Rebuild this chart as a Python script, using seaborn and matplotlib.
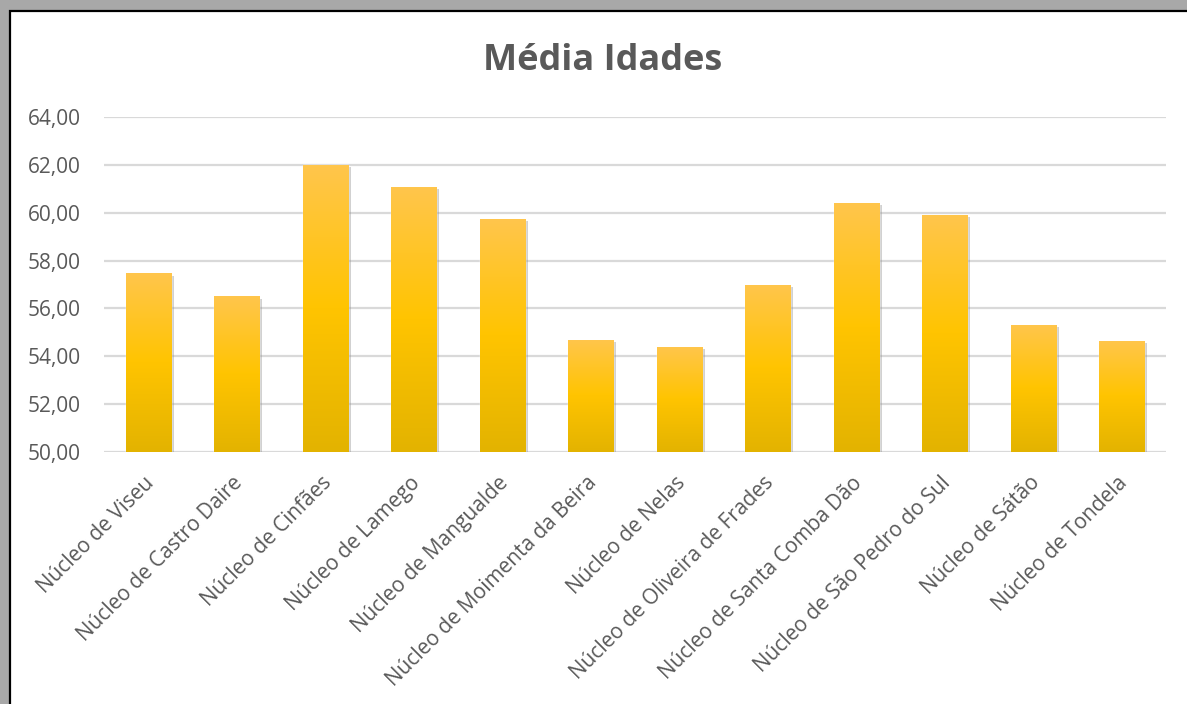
import numpy as np
import pandas as pd
import matplotlib
matplotlib.use('Agg')
import matplotlib.pyplot as plt
import matplotlib.patheffects as pe
import matplotlib.transforms as mtransforms
from matplotlib.colors import LinearSegmentedColormap
from matplotlib.patches import Rectangle
import seaborn as sns

nucleos = ['Núcleo de Viseu', 'Núcleo de Castro Daire', 'Núcleo de Cinfães',
           'Núcleo de Lamego', 'Núcleo de Mangualde', 'Núcleo de Moimenta da Beira',
           'Núcleo de Nelas', 'Núcleo de Oliveira de Frades', 'Núcleo de Santa Comba Dão',
           'Núcleo de São Pedro do Sul', 'Núcleo de Sátão', 'Núcleo de Tondela']
media_idades = [57.46, 56.50, 61.99, 61.07, 59.73, 54.70,
                54.40, 57.00, 60.40, 59.90, 55.32, 54.65]
y_ticks = [50, 52, 54, 56, 58, 60, 62, 64]

df = pd.DataFrame({'Núcleo': nucleos, 'Média': media_idades})

sns.set_style('white')
plt.rcParams['font.family'] = ['Open Sans', 'DejaVu Sans']
grey_txt = '#595959'

fig = plt.figure(figsize=(11.87, 7.04), dpi=100)

# frame like the Excel screenshot: grey shade top/left, black line, white inside
fig.patches.append(Rectangle((0, 0), 1, 1, transform=fig.transFigure,
                             facecolor='#a8a8a8', edgecolor='none', zorder=-3))
fig.patches.append(Rectangle((10 / 1187, -0.01), 1.02, 1 - 11 / 704 + 0.01,
                             transform=fig.transFigure, facecolor='white',
                             edgecolor='black', linewidth=1.6, zorder=-2))

ax = fig.add_axes([104 / 1187, 1 - 452 / 704, 1062 / 1187, 335 / 704])
ax.set_facecolor('none')

sns.barplot(data=df, x='Núcleo', y='Média', color='#FFC000', width=0.51,
            ax=ax, zorder=3)

ax.set_ylim(50, 64)
ax.set_xlim(-0.5, len(nucleos) - 0.5)

# gradient fill + soft shadow on each bar
cmap = LinearSegmentedColormap.from_list('gold', ['#E3B300', '#FFC400', '#FFC64C'])
grad = np.linspace(0, 1, 256).reshape(-1, 1)
for bar in ax.patches:
    x0, w = bar.get_x(), bar.get_width()
    top = bar.get_y() + bar.get_height()
    bar.set_path_effects([pe.SimplePatchShadow(offset=(2, -1.5), shadow_rgbFace='#8c8c8c',
                                               alpha=0.4), pe.Normal()])
    im = ax.imshow(grad, cmap=cmap, origin='lower', aspect='auto',
                   extent=[x0, x0 + w, 50, top], zorder=4)
    im.set_clip_path(bar)

ax.set_ylim(50, 64)
ax.set_xlim(-0.5, len(nucleos) - 0.5)
ax.set_yticks(y_ticks)
ax.set_yticklabels([f'{v:.2f}'.replace('.', ',') for v in y_ticks])
ax.yaxis.grid(True, color='#D9D9D9', linewidth=1.6, zorder=0)
ax.set_axisbelow(True)
for s in ax.spines.values():
    s.set_visible(False)

ax.tick_params(axis='y', length=0, pad=17, labelsize=15, labelcolor=grey_txt)
ax.tick_params(axis='x', length=0, pad=20, labelsize=15, labelcolor=grey_txt)
shift = mtransforms.ScaledTranslation(3 / 100, 0, fig.dpi_scale_trans)
for lab in ax.get_xticklabels():
    lab.set_rotation(45)
    lab.set_ha('right')
    lab.set_va('center')
    lab.set_rotation_mode('anchor')
    lab.set_transform(lab.get_transform() + shift)

ax.set_xlabel('')
ax.set_ylabel('')
fig.text(603 / 1187, 1 - 61 / 704, 'Média Idades', ha='center', va='center',
         fontsize=26, fontweight='bold', color=grey_txt)

fig.savefig('out.png', dpi=100)
